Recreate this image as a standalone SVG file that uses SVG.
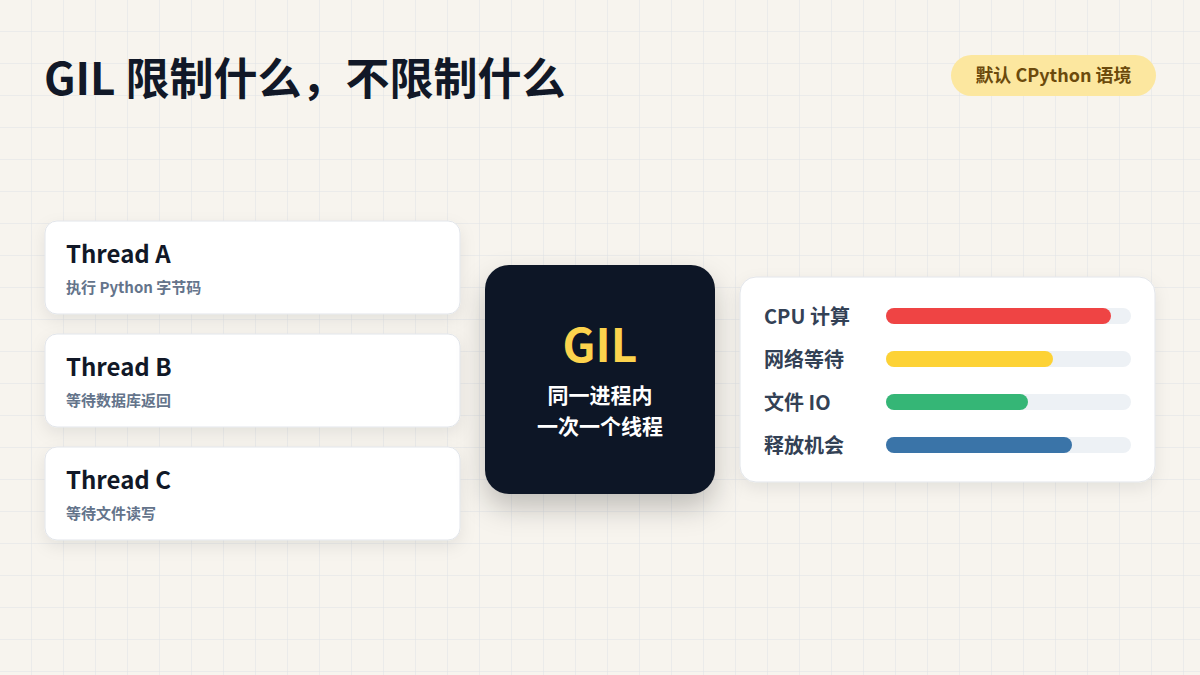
<svg xmlns="http://www.w3.org/2000/svg" width="1200" height="675" viewBox="0 0 1200 675">
<defs>
<pattern id="grid" width="32" height="32" patternUnits="userSpaceOnUse"><path d="M32 0V32M0 32H32" fill="none" stroke="#dfe3e6" stroke-width="1"/></pattern>
<filter id="sh" x="-20%" y="-20%" width="140%" height="160%"><feDropShadow dx="0" dy="6" stdDeviation="8" flood-color="#000" flood-opacity="0.08"/></filter>
<filter id="sh2" x="-30%" y="-30%" width="160%" height="170%"><feDropShadow dx="0" dy="14" stdDeviation="14" flood-color="#000" flood-opacity="0.22"/></filter>
<style>
text{font-family:"Noto Sans CJK SC","Open Sans",sans-serif;font-weight:700}
.card{fill:#fff;stroke:#e2e5ea;stroke-width:1;filter:url(#sh)}
.tt{font-size:24px;fill:#111827}
.ts{font-size:15px;fill:#64748b}
.lb{font-size:20px;fill:#334155}
.track{fill:#edf1f5}
</style>
</defs>
<rect width="1200" height="675" fill="#f7f4ee"/>
<rect width="1200" height="675" fill="url(#grid)"/>
<text x="44" y="95" font-size="44" fill="#111827">GIL 限制什么，不限制什么</text>
<g id="badge"><rect x="951" y="55" width="205" height="41" rx="20.5" fill="#fce79f"/><text x="1053.5" y="82" font-size="18" fill="#6b4a0c" text-anchor="middle">默认 CPython 语境</text></g>
<g id="threadA"><rect class="card" x="45" y="221" width="415" height="93" rx="12"/><text class="tt" x="66" y="263">Thread A</text><text class="ts" x="66" y="293">执行 Python 字节码</text></g>
<g id="threadB"><rect class="card" x="45" y="334" width="415" height="93" rx="12"/><text class="tt" x="66" y="376">Thread B</text><text class="ts" x="66" y="406">等待数据库返回</text></g>
<g id="threadC"><rect class="card" x="45" y="447" width="415" height="93" rx="12"/><text class="tt" x="66" y="489">Thread C</text><text class="ts" x="66" y="519">等待文件读写</text></g>
<g id="gil"><rect x="485" y="265" width="230" height="229" rx="24" fill="#111827" filter="url(#sh2)"/>
<text x="600" y="362" font-size="46" fill="#fcd34d" text-anchor="middle">GIL</text>
<text x="600" y="403" font-size="21" fill="#fff" text-anchor="middle">同一进程内</text>
<text x="600" y="434" font-size="21" fill="#fff" text-anchor="middle">一次一个线程</text></g>
<g id="stats"><rect class="card" x="740" y="277" width="415" height="205" rx="16"/>
<text class="lb" x="764" y="324">CPU 计算</text><rect class="track" x="886" y="308" width="245" height="16" rx="8"/><rect x="886" y="308" width="225" height="16" rx="8" fill="#ef4444"/>
<text class="lb" x="764" y="367">网络等待</text><rect class="track" x="886" y="351" width="245" height="16" rx="8"/><rect x="886" y="351" width="167" height="16" rx="8" fill="#fdd235"/>
<text class="lb" x="764" y="410">文件 IO</text><rect class="track" x="886" y="394" width="245" height="16" rx="8"/><rect x="886" y="394" width="142" height="16" rx="8" fill="#35b676"/>
<text class="lb" x="764" y="453">释放机会</text><rect class="track" x="886" y="437" width="245" height="16" rx="8"/><rect x="886" y="437" width="186" height="16" rx="8" fill="#3a74a8"/></g>
<g id="connectors"></g>
</svg>
